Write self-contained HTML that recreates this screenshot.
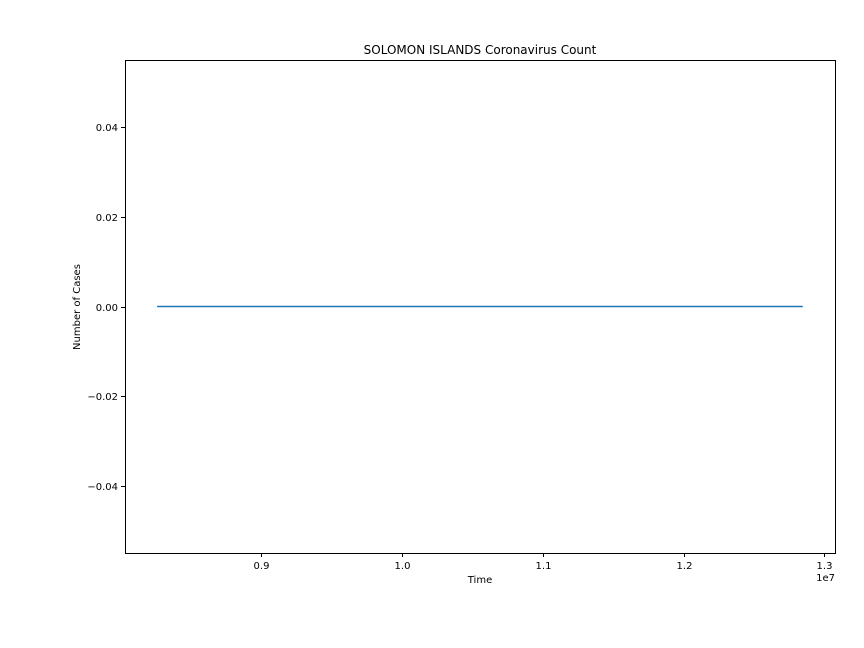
<!DOCTYPE html>
<html><head><meta charset="utf-8"><style>
body{margin:0;background:#fff;}
svg{display:block;font-family:"DejaVu Sans","Liberation Sans",sans-serif;}
</style></head><body>
<svg id="chart" width="864" height="648">
<rect width="864" height="648" fill="#fff"></rect>
<text x="480" y="54" font-size="12" text-anchor="middle">SOLOMON ISLANDS Coronavirus Count</text>
<text x="480" y="583" font-size="10" text-anchor="middle">Time</text>
<text x="80" y="307" font-size="10" text-anchor="middle" transform="rotate(-90 80 307)">Number of Cases</text>
<text x="835" y="581" font-size="10" text-anchor="end">1e7</text>
<g id="xticks"></g><g id="yticks"></g><g id="series"></g>
<rect x="125.5" y="60.5" width="710" height="493" fill="none" stroke="#000" stroke-width="1"></rect>
</svg>
<script>
const times = [8260000, 9100000, 10000000, 10900000, 11800000, 12847000];
const cases = [0, 0, 0, 0, 0, 0];
const xTickValues = [9000000, 10000000, 11000000, 12000000, 13000000];
const xTickLabels = ["0.9", "1.0", "1.1", "1.2", "1.3"];
const yTickValues = [-0.04, -0.02, 0, 0.02, 0.04];
const yTickLabels = ["\u22120.04", "\u22120.02", "0.00", "0.02", "0.04"];

const NS = "http://www.w3.org/2000/svg";
const L = 125, R = 835, T = 60, B = 553;
const xMin = 8032000, xMax = 13076000, yMin = -0.055, yMax = 0.055;
const xs = v => L + (v - xMin) / (xMax - xMin) * (R - L);
const ys = v => B - (v - yMin) / (yMax - yMin) * (B - T);
function mk(tag, attrs, parent) {
  const e = document.createElementNS(NS, tag);
  for (const k in attrs) e.setAttribute(k, attrs[k]);
  parent.appendChild(e);
  return e;
}
const xg = document.getElementById('xticks');
xTickValues.forEach((v, i) => {
  const x = Math.round(xs(v)) + 0.5;
  const t = mk('line', {x1: x, x2: x, y1: B, y2: B + 4, stroke: '#000'}, xg);
  
  
  const tx = mk('text', {x: x, y: B + 16, 'font-size': 10, 'text-anchor': 'middle'}, xg);
  tx.textContent = xTickLabels[i];
  
  
});
const yg = document.getElementById('yticks');
yTickValues.forEach((v, i) => {
  const y = Math.round(ys(v)) + 0.5;
  const t = mk('line', {x1: L - 4, x2: L, y1: y, y2: y, stroke: '#000'}, yg);
  
  
  const tx = mk('text', {x: L - 7, y: y + 3.5, 'font-size': 10, 'text-anchor': 'end'}, yg);
  tx.textContent = yTickLabels[i];
  
  
});
const sg = document.getElementById('series');
const pts = times.map((t, i) => xs(t).toFixed(1) + ',' + ys(cases[i]).toFixed(1)).join(' ');
const pl = mk('polyline', {points: pts, fill: 'none', stroke: '#1f77b4', 'stroke-width': 1.5}, sg);


</script>
</body></html>
